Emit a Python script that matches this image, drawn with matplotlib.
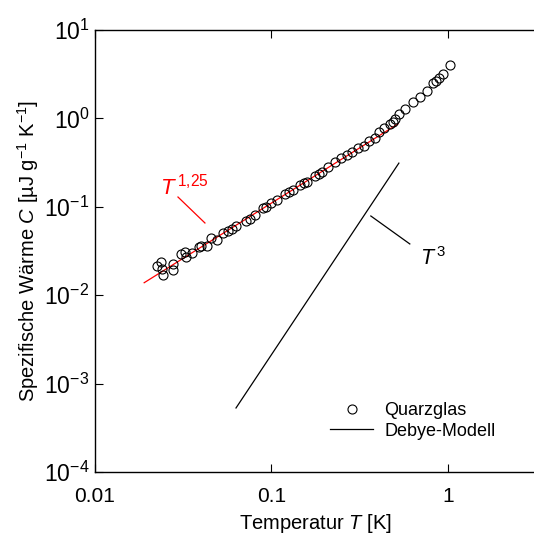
import numpy as np
import matplotlib
matplotlib.use("Agg")
import matplotlib.pyplot as plt
from matplotlib.ticker import NullLocator

plt.rcParams["font.family"] = ["Liberation Sans", "DejaVu Sans"]
plt.rcParams["mathtext.fontset"] = "custom"
plt.rcParams["mathtext.rm"] = "Liberation Sans"
plt.rcParams["mathtext.it"] = "Liberation Sans:italic"
plt.rcParams["mathtext.bf"] = "Liberation Sans:bold"

T_quarz = [0.02245, 0.02366, 0.02396, 0.02428, 0.02767, 0.0277, 0.03069, 0.03236,
           0.03278, 0.03545, 0.03883, 0.03986, 0.04311, 0.04543, 0.04912, 0.0531,
           0.0567, 0.05975, 0.0629, 0.0717, 0.0755, 0.0806, 0.0895, 0.0931,
           0.0994, 0.1074, 0.1193, 0.1257, 0.1324, 0.145, 0.1528, 0.1589,
           0.1764, 0.1858, 0.1932, 0.2089, 0.229, 0.2476, 0.2678, 0.2858,
           0.309, 0.334, 0.3566, 0.3859, 0.4064, 0.4339, 0.4693, 0.488,
           0.501, 0.5277, 0.5708, 0.6335, 0.694, 0.7603, 0.8222, 0.855,
           0.889, 0.938, 1.026]
C_quarz = [0.0214, 0.02375, 0.01979, 0.01692, 0.01928, 0.02254, 0.02924, 0.03083,
           0.02703, 0.03002, 0.03509, 0.03602, 0.0360, 0.04437, 0.04211, 0.05053,
           0.0532, 0.0561, 0.0606, 0.0691, 0.0728, 0.0807, 0.0969, 0.0995,
           0.1104, 0.1194, 0.1396, 0.147, 0.1549, 0.1764, 0.1858, 0.1908,
           0.2231, 0.235, 0.2474, 0.2819, 0.3211, 0.3565, 0.3855, 0.417,
           0.4625, 0.4874, 0.555, 0.6003, 0.7018, 0.7788, 0.8643, 0.911,
           0.9845, 1.121, 1.277, 1.533, 1.746, 2.042, 2.515, 2.649,
           2.864, 3.18, 4.02]

# Potenzgesetze
T_fit = [0.019, 0.523]
C_fit = [0.01384, 0.869]
T_debye = [0.063, 0.528]
C_debye = [5.3e-4, 0.312]

fig = plt.figure(figsize=(5.34, 5.36), dpi=100)
ax = fig.add_axes([95 / 534, 1 - 472 / 536, 441 / 534, 442 / 536])

ax.plot(T_quarz, C_quarz, linestyle="none", marker="o", markersize=6.5,
        markerfacecolor="none", markeredgecolor="black", markeredgewidth=0.8,
        label="Quarzglas", zorder=3)
ax.plot(T_fit, C_fit, color="red", linewidth=0.9, zorder=2)
ax.plot(T_debye, C_debye, color="black", linewidth=0.9, label="Debye-Modell")

ax.set_xscale("log")
ax.set_yscale("log")
ax.set_xlim(0.01, 10 ** 0.5)
ax.set_ylim(1e-4, 1e1)
ax.set_xticks([0.01, 0.1, 1])
ax.set_xticklabels(["0.01", "0.1", "1"])
ax.xaxis.set_minor_locator(NullLocator())
ax.yaxis.set_minor_locator(NullLocator())

ax.tick_params(axis="both", which="major", direction="in", length=6, width=0.8,
               top=True, right=False)
ax.tick_params(axis="x", labelsize=15, pad=11)
ax.tick_params(axis="y", labelsize=16.5, pad=4)
for s in ax.spines.values():
    s.set_linewidth(1.0)

ax.set_xlabel("Temperatur $\\mathit{T}$ [K]", fontsize=14.5, labelpad=4)
ax.set_ylabel("Spezifische Wärme $\\mathit{C}$ [µJ g$^{-1}$ K$^{-1}$]",
              fontsize=14.5, labelpad=2)

# Beschriftungen
ax.plot([0.02954, 0.0420], [0.129, 0.0656], color="red", linewidth=0.9)
ax.text(0.02335, 0.136, "$\\mathit{T}^{\\,1{,}25}$", color="red", fontsize=16,
        va="baseline", ha="left")
ax.plot([0.3662, 0.609], [0.0787, 0.0380], color="black", linewidth=0.9)
ax.text(0.694, 0.022, "$\\mathit{T}^{\\,3}$", color="black", fontsize=15.5,
        va="baseline", ha="left")

ax.legend(loc="upper left", bbox_to_anchor=(321 / 534, 1 - 393 / 536),
          bbox_transform=fig.transFigure, frameon=False, fontsize=13,
          handlelength=2.4, handletextpad=0.6, labelspacing=0.2, borderpad=0)

fig.savefig("out.png", dpi=100)
